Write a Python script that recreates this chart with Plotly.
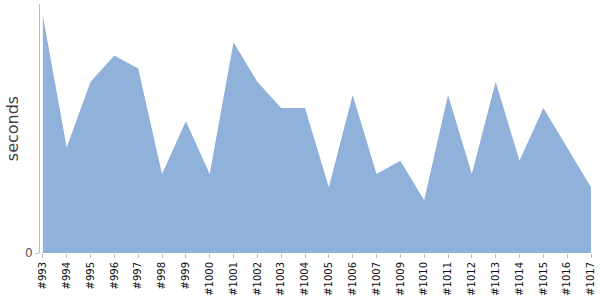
import plotly.graph_objects as go

builds = ["#993", "#994", "#995", "#996", "#997", "#998", "#999", "#1000", "#1001",
          "#1002", "#1003", "#1004", "#1005", "#1006", "#1007", "#1009", "#1010",
          "#1011", "#1012", "#1013", "#1014", "#1015", "#1016", "#1017"]
seconds = [18, 8, 13, 15, 14, 6, 10, 6, 16, 13, 11, 11, 5, 12, 6, 7, 4, 12, 6, 13, 7, 11, 8, 5]

fig = go.Figure()
fig.add_trace(go.Scatter(
    x=list(range(len(builds))), y=seconds, mode="lines", fill="tozeroy",
    line=dict(width=0, color="rgb(143,177,218)"),
    fillcolor="rgb(143,177,218)", hoverinfo="skip", showlegend=False,
))
fig.update_layout(
    width=600, height=300,
    margin=dict(l=40, r=9, t=4, b=47),
    paper_bgcolor="white", plot_bgcolor="white",
    font=dict(family="DejaVu Sans", color="#333"),
    xaxis=dict(
        tickmode="array", tickvals=list(range(len(builds))), ticktext=builds,
        tickangle=-90, tickfont=dict(size=10, color="#111"),
        range=[-0.12, len(builds) - 1], showgrid=False, zeroline=False,
        showline=False, ticks="outside", ticklen=4, tickcolor="#bbb",
    ),
    yaxis=dict(
        range=[0, 18.9], tickvals=[0], ticktext=["0"],
        tickfont=dict(size=12, color="#555"),
        showgrid=False, zeroline=False, showline=True, linecolor="#bbb",
        ticks="outside", ticklen=4, tickcolor="#bbb",
        title=dict(text="seconds", font=dict(size=16, color="#444"), standoff=2),
    ),
)
fig.write_html("out.html")
